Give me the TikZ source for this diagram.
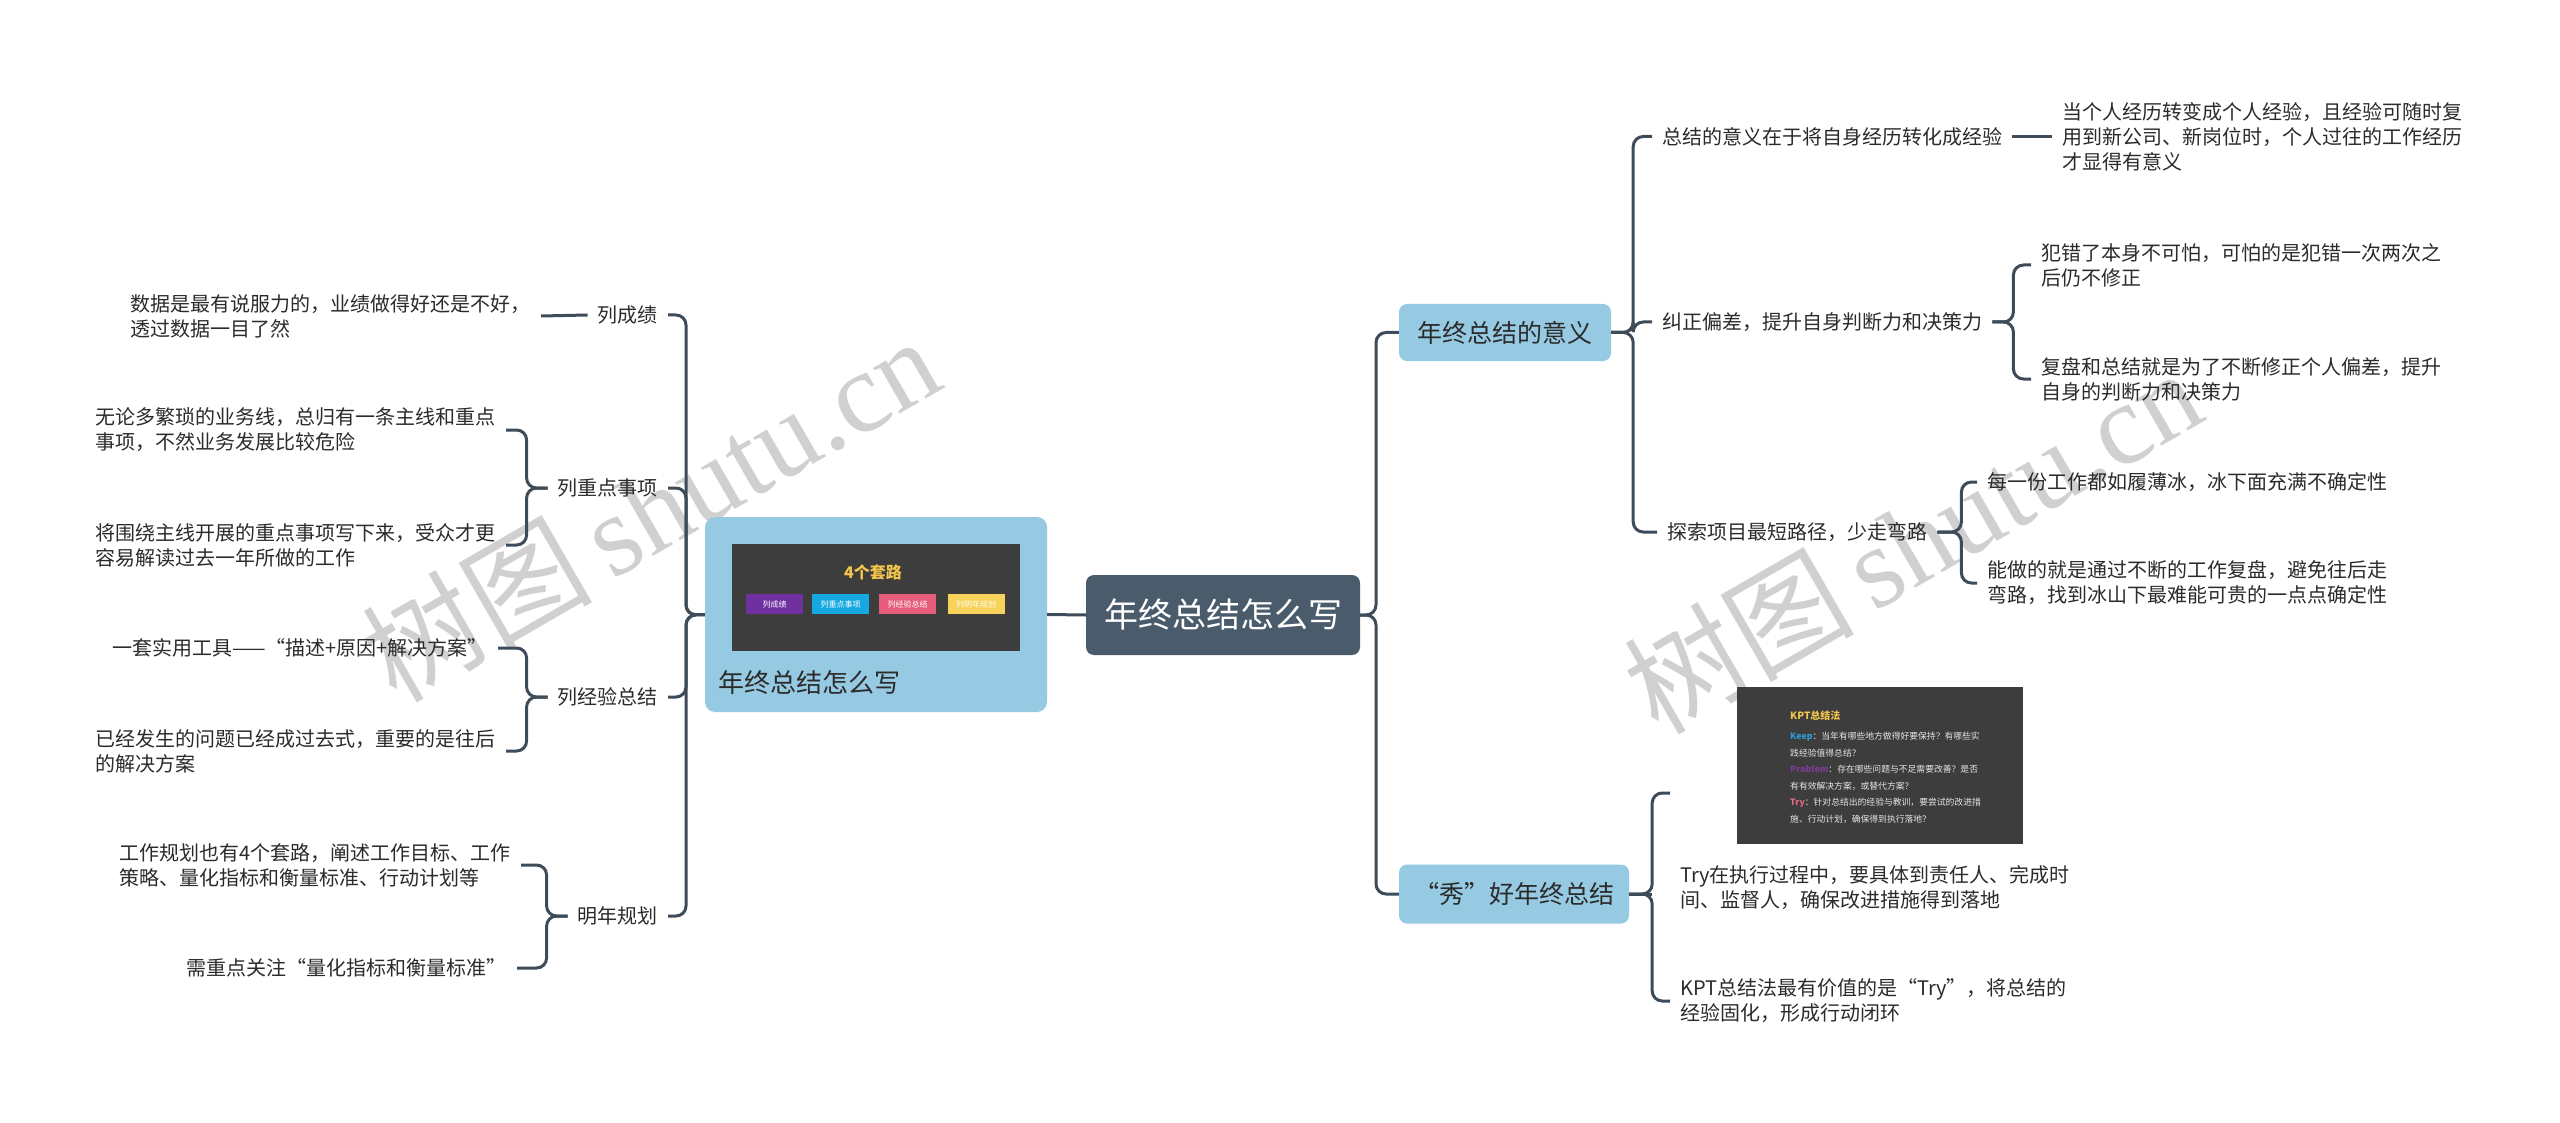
\documentclass[tikz,border=0pt]{standalone}
\usepackage{fontspec}
\setmainfont{Noto Sans CJK SC}
\newfontfamily\wmlatin{Liberation Serif}
\definecolor{linec}{HTML}{3E4B58}
\definecolor{centerc}{HTML}{4A5B6C}
\definecolor{bluebox}{HTML}{96CAE2}
\definecolor{txt}{HTML}{2B2B2B}
\definecolor{imgbg}{HTML}{3D3D3D}
\definecolor{ktitle}{HTML}{F3C54C}
\definecolor{tagpurple}{HTML}{7030A0}
\definecolor{tagcyan}{HTML}{16A9E1}
\definecolor{tagpink}{HTML}{E65C7B}
\definecolor{tagyellow}{HTML}{F7D35C}
\definecolor{kblue}{HTML}{2E9BD6}
\definecolor{kpurple}{HTML}{7D3C98}
\definecolor{kpink}{HTML}{E26A84}
\definecolor{kwhite}{HTML}{E6E6E6}
\definecolor{wmc}{HTML}{D0D0D0}
\begin{document}
\begin{tikzpicture}[x=1pt,y=-1pt,
  conn/.style={draw=linec,line width=3pt,rounded corners=10pt},
  lbl/.style={text=txt,font=\fontsize{20}{25}\selectfont,inner xsep=10pt,inner ysep=2pt,align=left},
  bbox/.style={fill=bluebox,rounded corners=8pt,text=txt,font=\fontsize{25}{30}\selectfont,inner sep=0pt},
  tagbox/.style={minimum width=57pt,minimum height=20pt,inner sep=0pt,text=white,font=\fontsize{8}{9}\selectfont},
  wm/.style={text=wmc,rotate=30,inner sep=0pt}
]
\fill[white] (0,0) rectangle (2560,1123);
\useasboundingbox (0,0) rectangle (2560,1123);

% watermarks (behind everything)
\node[wm,font=\fontsize{115}{120}\selectfont] (wm1) at (650,508) {树图\,{\wmlatin shutu.cn}};
\node[wm,font=\fontsize{115}{120}\selectfont] (wm2) at (1912,540) {树图\,{\wmlatin shutu.cn}};

% central topic
\node[fill=centerc,rounded corners=8pt,minimum width=274pt,minimum height=80pt,inner sep=0pt,text=white,font=\fontsize{34}{40}\selectfont] (c) at (1223,615) {年终总结怎么写};

% left image topic
\node[fill=bluebox,rounded corners=10pt,minimum width=342pt,minimum height=195pt,inner sep=0pt] (lb) at (876,614.5) {};
\node[fill=imgbg,minimum width=288pt,minimum height=107pt,inner sep=0pt] (img1) at (876,597.5) {};
\node[text=ktitle,font=\bfseries\fontsize{16}{18}\selectfont,inner sep=0pt] (img1t) at (873,572) {4个套路};
\node[tagbox,fill=tagpurple] (tg1) at (774.5,604) {列成绩};
\node[tagbox,fill=tagcyan] (tg2) at (840.5,604) {列重点事项};
\node[tagbox,fill=tagpink] (tg3) at (907.5,604) {列经验总结};
\node[tagbox,fill=tagyellow,text=white!92!yellow] (tg4) at (976,604) {列明年规划};
\node[anchor=west,inner sep=0pt,text=txt,font=\fontsize{26}{30}\selectfont] (lbcap) at (718,683) {年终总结怎么写};

% left level-1
\node[lbl,anchor=east] (l1) at (668,315) {列成绩};
\node[lbl,anchor=east] (l2) at (668,488) {列重点事项};
\node[lbl,anchor=east] (l3) at (668,697) {列经验总结};
\node[lbl,anchor=east] (l4) at (668,916) {明年规划};

% left level-2
\node[lbl,anchor=east] (l1a) at (541,316) {数据是最有说服力的，业绩做得好还是不好，\\透过数据一目了然};
\node[lbl,anchor=east] (l2a) at (506,430) {无论多繁琐的业务线，总归有一条主线和重点\\事项，不然业务发展比较危险};
\node[lbl,anchor=east] (l2b) at (506,545) {将围绕主线开展的重点事项写下来，受众才更\\容易解读过去一年所做的工作};
\node[lbl,anchor=east] (l3a) at (498,648) {一套实用工具——“描述+原因+解决方案”};
\node[lbl,anchor=east] (l3b) at (506,751) {已经发生的问题已经成过去式，重要的是往后\\的解决方案};
\node[lbl,anchor=east] (l4a) at (521,865) {工作规划也有4个套路，阐述工作目标、工作\\策略、量化指标和衡量标准、行动计划等};
\node[lbl,anchor=east] (l4b) at (517,968) {需重点关注“量化指标和衡量标准”};

% right main topics
\node[bbox,minimum width=212pt,minimum height=57pt] (r1) at (1505,332.5) {年终总结的意义};
\node[bbox,minimum width=230pt,minimum height=59pt] (r2) at (1514,894) {“秀”好年终总结};

% right level-2 of r1
\node[lbl,anchor=west] (r1a) at (1652,136.5) {总结的意义在于将自身经历转化成经验};
\node[lbl,anchor=west] (r1b) at (1652,322) {纠正偏差，提升自身判断力和决策力};
\node[lbl,anchor=west] (r1c) at (1657,532) {探索项目最短路径，少走弯路};

% right level-3
\node[lbl,anchor=west] (r1a1) at (2052,136.5) {当个人经历转变成个人经验，且经验可随时复\\用到新公司、新岗位时，个人过往的工作经历\\才显得有意义};
\node[lbl,anchor=west] (r1b1) at (2031,265) {犯错了本身不可怕，可怕的是犯错一次两次之\\后仍不修正};
\node[lbl,anchor=west] (r1b2) at (2031,379) {复盘和总结就是为了不断修正个人偏差，提升\\自身的判断力和决策力};
\node[lbl,anchor=west] (r1c1) at (1977,482) {每一份工作都如履薄冰，冰下面充满不确定性};
\node[lbl,anchor=west] (r1c2) at (1977,583) {能做的就是通过不断的工作复盘，避免往后走\\弯路，找到冰山下最难能可贵的一点点确定性};

% r2 children
\node[fill=imgbg,minimum width=286pt,minimum height=157pt,inner sep=0pt] (kpt) at (1880,765.5) {};
\node[anchor=west,inner sep=0pt,text=ktitle,font=\bfseries\fontsize{10}{12}\selectfont] (kptt) at (1790,716) {KPT总结法};
\node[anchor=north west,inner sep=0pt,align=left,text=kwhite,font=\fontsize{8.8}{16.5}\selectfont] (kptx) at (1790,732) {{\color{kblue}\bfseries Keep}：当年有哪些地方做得好要保持？有哪些实\\践经验值得总结？\\{\color{kpurple}\bfseries Problem}：存在哪些问题与不足需要改善？是否\\有有效解决方案，或替代方案？\\{\color{kpink}\bfseries Try}：针对总结出的经验与教训，要尝试的改进措\\施、行动计划，确保得到执行落地？};
\coordinate (kptin) at (1670,793);
\node[lbl,anchor=west] (r2b) at (1670,888) {Try在执行过程中，要具体到责任人、完成时\\间、监督人，确保改进措施得到落地};
\node[lbl,anchor=west] (r2c) at (1670,1001) {KPT总结法最有价值的是“Try”，将总结的\\经验固化，形成行动闭环};

% connectors
\coordinate (lt) at (686,615);
\coordinate (rt) at (1376,615);
\draw[conn] (c.west) -- (lb.east);
\foreach \n in {l1,l2,l3,l4} \draw[conn] (lb.west) -- (lt) |- (\n.east);
\draw[conn] (l1.west) -- (l1a.east);
\draw[conn] (l2.west) -- ++(-21,0) |- (l2a.east);
\draw[conn] (l2.west) -- ++(-21,0) |- (l2b.east);
\draw[conn] (l3.west) -- ++(-21,0) |- (l3a.east);
\draw[conn] (l3.west) -- ++(-21,0) |- (l3b.east);
\draw[conn] (l4.west) -- ++(-21,0) |- (l4a.east);
\draw[conn] (l4.west) -- ++(-21,0) |- (l4b.east);

\draw[conn] (c.east) -- (rt) |- (r1.west);
\draw[conn] (c.east) -- (rt) |- (r2.west);
\foreach \n in {r1a,r1b,r1c} \draw[conn] (r1.east) -- ++(22,0) |- (\n.west);
\draw[conn] (r1a.east) -- (r1a1.west);
\draw[conn] (r1b.east) -- ++(21,0) |- (r1b1.west);
\draw[conn] (r1b.east) -- ++(21,0) |- (r1b2.west);
\draw[conn] (r1c.east) -- ++(24,0) |- (r1c1.west);
\draw[conn] (r1c.east) -- ++(24,0) |- (r1c2.west);
\draw[conn] (r2.east) -- ++(23,0) |- (kptin);
\draw[conn] (r2.east) -- ++(23,0);
\draw[conn] (r2.east) -- ++(23,0) |- (r2c.west);
\end{tikzpicture}
\end{document}
